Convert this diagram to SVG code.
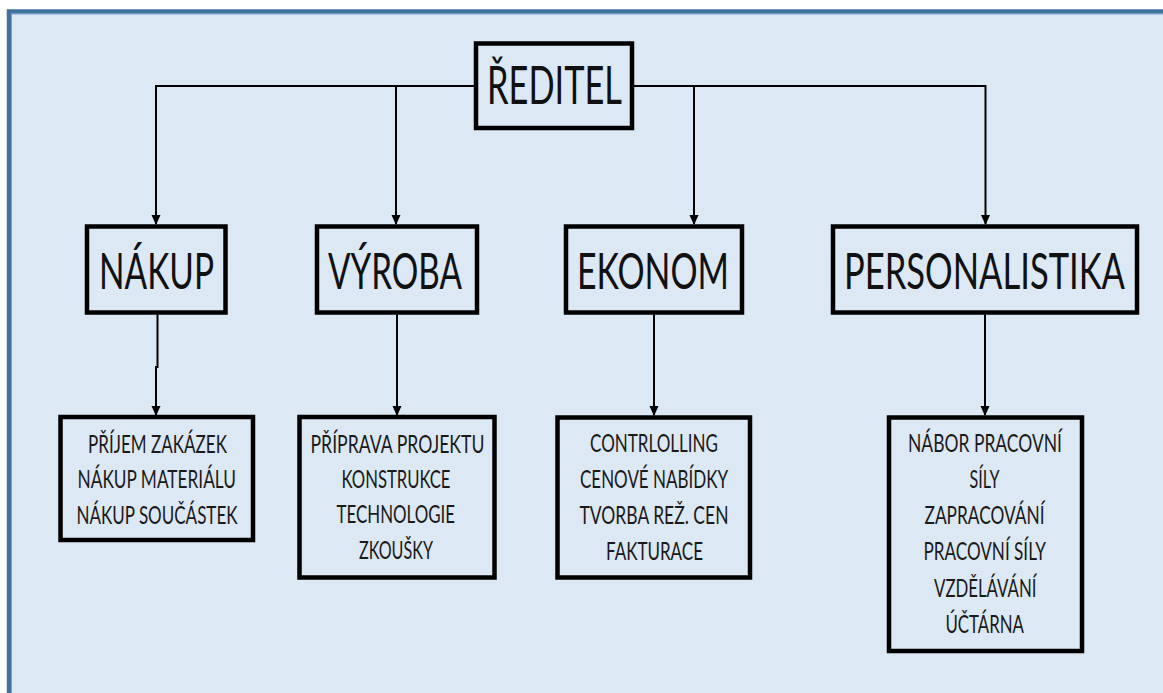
<svg xmlns="http://www.w3.org/2000/svg" width="1163" height="693" viewBox="0 0 1163 693">
<style>
.box{fill:none;stroke:#000;stroke-width:4.5;stroke-linejoin:miter}
.t1{font-family:Lato,"Open Sans","Liberation Sans",sans-serif;font-size:38px;fill:#111}
.t2{font-family:Lato,"Open Sans","Liberation Sans",sans-serif;font-size:36.5px;fill:#111}
.t3{font-family:Lato,"Open Sans","Liberation Sans",sans-serif;font-size:25px;fill:#1a1a1a}
.con{fill:none;stroke:#000;stroke-width:2}
</style>
<rect x="0" y="0" width="1163" height="693" fill="#ffffff"/>
<rect x="9" y="11.5" width="1160" height="690" fill="#dde8f5" stroke="#41719c" stroke-width="4.5"/>
<rect x="11.5" y="14" width="1160" height="690" fill="none" stroke="#7aa2cf" stroke-width="1"/>

<g id="connectors">
<path class="con" d="M474 86 H156 V224"/>
<path class="con" d="M396 86 V224"/>
<path class="con" d="M634 86 H985.5 V224"/>
<path class="con" d="M694 86 V224"/>
<path class="con" d="M157.5 314.5 V367 H156 V415"/>
<path class="con" d="M397 314.5 V415"/>
<path class="con" d="M654 314.5 V415"/>
<path class="con" d="M985 314.5 V415"/>
<g fill="#000">
<polygon points="151.5,215 160.5,215 156,225"/>
<polygon points="391.5,215 400.5,215 396,225"/>
<polygon points="689.5,215 698.5,215 694,225"/>
<polygon points="981,215 990,215 985.5,225"/>
<polygon points="151.5,406 160.5,406 156,416"/>
<polygon points="392.5,406 401.5,406 397,416"/>
<polygon points="649.5,406 658.5,406 654,416"/>
<polygon points="980.5,406 989.5,406 985,416"/>
</g>
</g>

<g id="reditel">
<rect class="box" x="476" y="43.5" width="156" height="84.5"/>
<text class="t1" transform="translate(487 104) scale(1 1.4)" x="0" y="0" textLength="135" lengthAdjust="spacingAndGlyphs">ŘEDITEL</text>
</g>

<g id="nakup">
<rect class="box" x="87" y="226.5" width="138.5" height="86"/>
<text class="t2" transform="translate(99 288.5) scale(1 1.4)" x="0" y="0" textLength="115" lengthAdjust="spacingAndGlyphs">NÁKUP</text>
</g>
<g id="vyroba">
<rect class="box" x="317" y="226.5" width="160" height="86"/>
<text class="t2" transform="translate(328 288.5) scale(1 1.4)" x="0" y="0" textLength="134" lengthAdjust="spacingAndGlyphs">VÝROBA</text>
</g>
<g id="ekonom">
<rect class="box" x="566" y="226.5" width="176" height="86"/>
<text class="t2" transform="translate(577 289) scale(1 1.4)" x="0" y="0" textLength="152" lengthAdjust="spacingAndGlyphs">EKONOM</text>
</g>
<g id="personalistika">
<rect class="box" x="833" y="226.5" width="304" height="86"/>
<text class="t2" transform="translate(844 289) scale(1 1.4)" x="0" y="0" textLength="281" lengthAdjust="spacingAndGlyphs">PERSONALISTIKA</text>
</g>

<g id="nakup-detail">
<rect class="box" x="60.5" y="417" width="192.5" height="123"/>
<text class="t3" x="88" y="452.5" textLength="139" lengthAdjust="spacingAndGlyphs">PŘÍJEM ZAKÁZEK</text>
<text class="t3" x="77.5" y="488" textLength="158.5" lengthAdjust="spacingAndGlyphs">NÁKUP MATERIÁLU</text>
<text class="t3" x="76.5" y="524" textLength="161" lengthAdjust="spacingAndGlyphs">NÁKUP SOUČÁSTEK</text>
</g>
<g id="vyroba-detail">
<rect class="box" x="299.5" y="417" width="195" height="160.5"/>
<text class="t3" x="310.5" y="452.5" textLength="174" lengthAdjust="spacingAndGlyphs">PŘÍPRAVA PROJEKTU</text>
<text class="t3" x="341.5" y="487.5" textLength="109" lengthAdjust="spacingAndGlyphs">KONSTRUKCE</text>
<text class="t3" x="336.5" y="523" textLength="118.5" lengthAdjust="spacingAndGlyphs">TECHNOLOGIE</text>
<text class="t3" x="359" y="559" textLength="74" lengthAdjust="spacingAndGlyphs">ZKOUŠKY</text>
</g>
<g id="ekonom-detail">
<rect class="box" x="557.5" y="417.5" width="192.5" height="160"/>
<text class="t3" x="590" y="451.5" textLength="128" lengthAdjust="spacingAndGlyphs">CONTRLOLLING</text>
<text class="t3" x="580" y="488" textLength="148" lengthAdjust="spacingAndGlyphs">CENOVÉ NABÍDKY</text>
<text class="t3" x="579.5" y="524" textLength="149" lengthAdjust="spacingAndGlyphs">TVORBA REŽ. CEN</text>
<text class="t3" x="606" y="560" textLength="97" lengthAdjust="spacingAndGlyphs">FAKTURACE</text>
</g>
<g id="personalistika-detail">
<rect class="box" x="889" y="417.5" width="193" height="233.5"/>
<text class="t3" x="908" y="451.5" textLength="154" lengthAdjust="spacingAndGlyphs">NÁBOR PRACOVNÍ</text>
<text class="t3" x="969.5" y="488" textLength="30" lengthAdjust="spacingAndGlyphs">SÍLY</text>
<text class="t3" x="924.5" y="524" textLength="120" lengthAdjust="spacingAndGlyphs">ZAPRACOVÁNÍ</text>
<text class="t3" x="923.5" y="560" textLength="122.5" lengthAdjust="spacingAndGlyphs">PRACOVNÍ SÍLY</text>
<text class="t3" x="934" y="596.5" textLength="102.5" lengthAdjust="spacingAndGlyphs">VZDĚLÁVÁNÍ</text>
<text class="t3" x="945.5" y="632.5" textLength="78.5" lengthAdjust="spacingAndGlyphs">ÚČTÁRNA</text>
</g>
</svg>
